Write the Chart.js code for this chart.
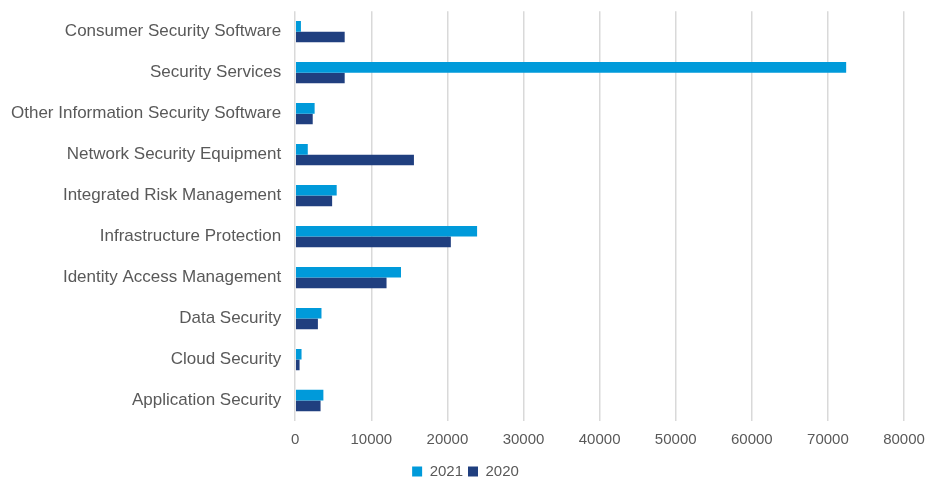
<!DOCTYPE html>
<html>
<head>
<meta charset="utf-8">
<script src="https://cdn.jsdelivr.net/npm/chart.js@4/dist/chart.umd.min.js"></script>
<style>
  body { margin: 0; background: #fff; }
  #wrap { width: 928px; height: 478px; }
</style>
</head>
<body>
<div id="wrap"><canvas id="myChart"></canvas></div>
<script>
// categories top to bottom
var categories = [
  'Consumer Security Software',
  'Security Services',
  'Other Information Security Software',
  'Network Security Equipment',
  'Integrated Risk Management',
  'Infrastructure Protection',
  'Identity Access Management',
  'Data Security',
  'Cloud Security',
  'Application Security'
];
var values2021 = [750, 72400, 2550, 1650, 5450, 23900, 13900, 3450, 830, 3700];
var values2020 = [6500, 6500, 2300, 15600, 4850, 20450, 12000, 2980, 570, 3330];
var xTicks = [0, 10000, 20000, 30000, 40000, 50000, 60000, 70000, 80000];

var textColor = '#595959';

var data = {
  labels: categories,
  datasets: [{
    label: '2021',
    backgroundColor: '#009ADA',
    data: values2021
  }, {
    label: '2020',
    backgroundColor: '#203F7F',
    data: values2020
  }]
};

const config = {
  type: 'bar',
  data: data,
  options: {
    indexAxis: 'y',
    responsive: true,
    maintainAspectRatio: false,
    animation: false,
    datasets: {
      bar: { barPercentage: 1, categoryPercentage: 0.52 }
    },
    layout: { padding: { top: 0, right: 7, bottom: -11, left: 10 } },
    scales: {
      x: {
        min: 0,
        max: 80000,
        afterBuildTicks: function (axis) {
          axis.ticks = xTicks.map(function (v) { return { value: v }; });
        },
        // let the last tick label hang closer to the edge
        afterFit: function (axis) {
          axis.paddingRight = 24;
        },
        grid: { color: '#D9D9D9', lineWidth: 1.5, drawTicks: false },
        border: { display: false },
        ticks: {
          color: textColor,
          padding: 10,
          callback: function (v) { return String(v); },
          font: { family: 'Liberation Sans, Arial, sans-serif', size: 15 }
        }
      },
      y: {
        // hidden tick marks give the gap between labels and bars
        grid: { display: false, drawTicks: true, tickLength: 13 },
        border: { display: false },
        ticks: {
          color: textColor,
          padding: 1,
          font: { family: 'Liberation Sans, Arial, sans-serif', size: 17 }
        }
      }
    },
    plugins: {
      legend: {
        position: 'bottom',
        labels: {
          color: textColor,
          boxWidth: 10,
          boxHeight: 10,
          padding: 5,
          font: { family: 'Liberation Sans, Arial, sans-serif', size: 15 }
        }
      },
      tooltip: { enabled: false }
    }
  }
};

var myChart = new Chart(document.getElementById('myChart'), config);
</script>
</body>
</html>
